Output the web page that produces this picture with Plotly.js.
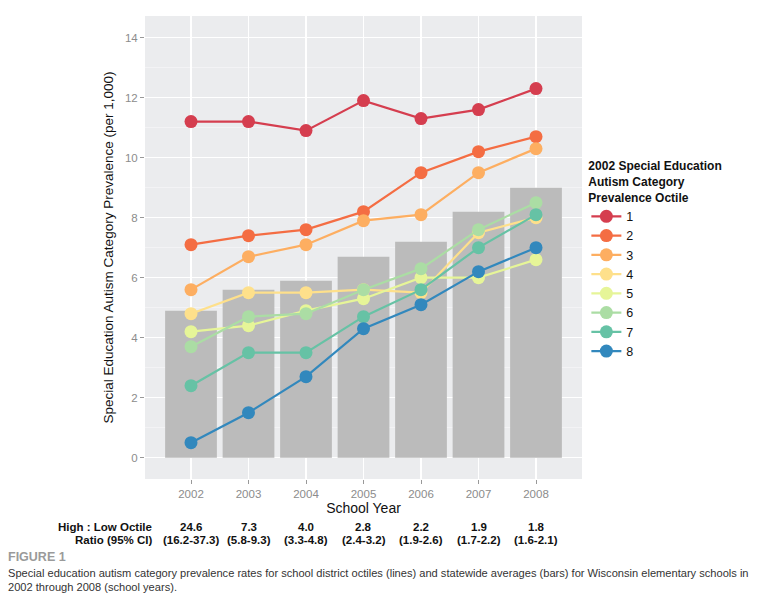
<!DOCTYPE html>
<html>
<head>
<meta charset="utf-8">
<script src="https://cdn.plot.ly/plotly-3.0.1.min.js"></script>
<style>
html,body{margin:0;padding:0;background:#fff;}
#chart{width:778px;height:600px;}
</style>
</head>
<body>
<div id="chart"></div>
<script>
// ---- data ----
var years = [2002, 2003, 2004, 2005, 2006, 2007, 2008];
var statewide = [4.9, 5.6, 5.9, 6.7, 7.2, 8.2, 9.0];
var octileNames = ["1", "2", "3", "4", "5", "6", "7", "8"];
var octile1 = [11.2, 11.2, 10.9, 11.9, 11.3, 11.6, 12.3];
var octile2 = [7.1, 7.4, 7.6, 8.2, 9.5, 10.2, 10.7];
var octile3 = [5.6, 6.7, 7.1, 7.9, 8.1, 9.5, 10.3];
var octile4 = [4.8, 5.5, 5.5, 5.6, 5.5, 7.5, 8.0];
var octile5 = [4.2, 4.4, 4.9, 5.3, 6.0, 6.0, 6.6];
var octile6 = [3.7, 4.7, 4.8, 5.6, 6.3, 7.6, 8.5];
var octile7 = [2.4, 3.5, 3.5, 4.7, 5.6, 7.0, 8.1];
var octile8 = [0.5, 1.5, 2.7, 4.3, 5.1, 6.2, 7.0];
var ratioValues = ["24.6", "7.3", "4.0", "2.8", "2.2", "1.9", "1.8"];
var ratioCI = ["(16.2-37.3)", "(5.8-9.3)", "(3.3-4.8)", "(2.4-3.2)", "(1.9-2.6)", "(1.7-2.2)", "(1.6-2.1)"];

var octiles = [octile1, octile2, octile3, octile4, octile5, octile6, octile7, octile8];
var colors = ["#D53E4F", "#F46D43", "#FDAE61", "#FEE08B", "#E6F598", "#ABDDA4", "#66C2A5", "#3288BD"];

var traces = [{
  type: "bar", x: years, y: statewide, width: 0.9,
  marker: {color: "#BBBBBB"}, showlegend: false, hoverinfo: "skip"
}];
octiles.forEach(function (vals, i) {
  traces.push({
    type: "scatter", mode: "lines+markers", name: octileNames[i],
    x: years, y: vals,
    line: {color: colors[i], width: 2.2},
    marker: {color: colors[i], size: 13}
  });
});

var boldFont = {family: "Liberation Sans, Arial, sans-serif", size: 11.5, color: "#111"};
var capFamily = "Liberation Sans, Arial, sans-serif";
var annotations = [];
years.forEach(function (yr, i) {
  annotations.push({xref: "x", yref: "paper", x: yr, y: 0, yanchor: "middle", text: "<b>" + ratioValues[i] + "</b>",
    showarrow: false, yshift: -47.5, font: boldFont});
  annotations.push({xref: "x", yref: "paper", x: yr, y: 0, yanchor: "middle", text: "<b>" + ratioCI[i] + "</b>",
    showarrow: false, yshift: -61, font: boldFont});
});
annotations.push({xref: "paper", yref: "paper", x: 0.021, xanchor: "right", y: 0, yanchor: "middle", yshift: -47.5,
  text: "<b>High : Low Octile</b>", showarrow: false, font: boldFont});
annotations.push({xref: "paper", yref: "paper", x: 0.021, xanchor: "right", y: 0, yanchor: "middle", yshift: -61,
  text: "<b>Ratio (95% CI)</b>", showarrow: false, font: boldFont});
annotations.push({xref: "paper", yref: "paper", x: -139/436.7, xanchor: "left", y: 0, yanchor: "middle", yshift: -78,
  text: "<b>FIGURE 1</b>", showarrow: false, font: {family: capFamily, size: 12.5, color: "#9A9A9A"}});
annotations.push({xref: "paper", yref: "paper", x: -139/436.7, xanchor: "left", y: 0, yanchor: "top", yshift: -86, align: "left",
  text: "Special education autism category prevalence rates for school district octiles (lines) and statewide averages (bars) for Wisconsin elementary schools in<br>2002 through 2008 (school years).",
  showarrow: false, font: {family: capFamily, size: 11.1, color: "#333"}});

var layout = {
  width: 778, height: 600,
  margin: {l: 145, r: 196, t: 16, b: 121},
  paper_bgcolor: "#ffffff",
  plot_bgcolor: "#EBECEE",
  font: {family: "Liberation Sans, Arial, sans-serif", color: "#111"},
  showlegend: true,
  barmode: "overlay",
  xaxis: {
    range: [2001.2, 2008.8], tickmode: "array", tickvals: years, ticktext: years.map(String),
    showgrid: true, gridcolor: "#FFFFFF", gridwidth: 1.4, zeroline: false,
    ticks: "outside", ticklen: 4, tickcolor: "#999", tickwidth: 1,
    tickfont: {size: 11.5, color: "#8C8C8C"},
    title: {text: "School Year", font: {size: 14, color: "#111"}, standoff: 0}
  },
  yaxis: {
    range: [-0.71, 14.72], tickmode: "array", tickvals: [0, 2, 4, 6, 8, 10, 12, 14],
    showgrid: true, gridcolor: "#FFFFFF", gridwidth: 1.4, zeroline: false,
    minor: {tickvals: [1, 3, 5, 7, 9, 11, 13], showgrid: true, gridcolor: "#F5F5F6", gridwidth: 0.8, ticks: ""},
    ticks: "outside", ticklen: 4, tickcolor: "#999", tickwidth: 1,
    tickfont: {size: 11.5, color: "#8C8C8C"},
    title: {text: "Special Education Autism Category Prevalence (per 1,000)", font: {size: 13.5, color: "#111"}, standoff: 8}
  },
  legend: {
    x: 1.01, xanchor: "left", y: 0.70, yanchor: "top",
    bgcolor: "rgba(0,0,0,0)",
    font: {size: 12.5, color: "#111"},
    title: {text: "<b>2002 Special Education<br>Autism Category<br>Prevalence Octile</b>", font: {size: 12, color: "#111"}},
    itemwidth: 30, tracegroupgap: 0
  },
  annotations: annotations
};

Plotly.newPlot("chart", traces, layout, {displayModeBar: false, staticPlot: true});
</script>
</body>
</html>
